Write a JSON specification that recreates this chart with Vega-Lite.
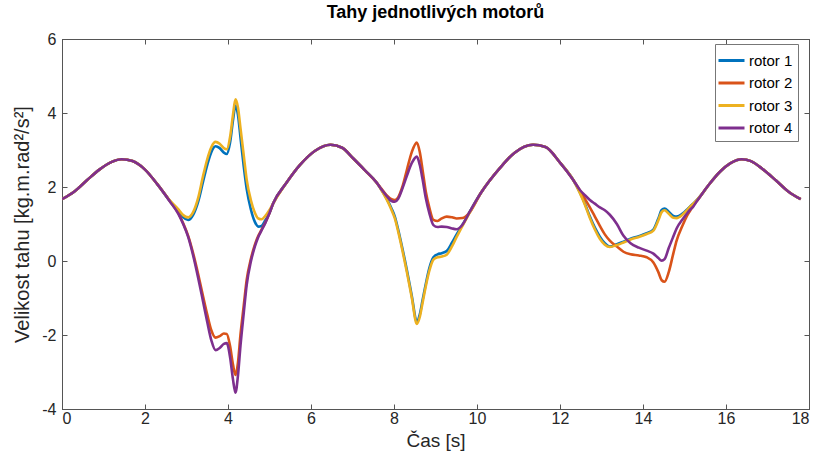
{
  "$schema": "https://vega.github.io/schema/vega-lite/v6.json",
  "autosize": {"type": "none"},
  "width": 747,
  "height": 370,
  "padding": {"left": 62, "top": 39, "right": 13, "bottom": 57},
  "background": "white",
  "config": {
    "view": {"stroke": "#555", "strokeWidth": 1},
    "font": "Liberation Sans",
    "axis": {"grid": false, "domainColor": "#555", "tickColor": "#555", "labelColor": "#262626", "titleColor": "#262626", "labelFontSize": 16, "titleFontSize": 19, "titleFontWeight": "normal", "labelFont": "Liberation Sans", "titleFont": "Liberation Sans"}
  },
  "title": {"text": "Tahy jednotlivých motorů", "fontSize": 18, "fontWeight": "bold", "color": "#000", "font": "Liberation Sans", "anchor": "middle", "offset": 9},
  "data": {"values": [
    {"t": 0, "rotor 1": 1.67, "rotor 2": 1.67, "rotor 3": 1.67, "rotor 4": 1.67},
    {"t": 0.3, "rotor 1": 1.88, "rotor 2": 1.88, "rotor 3": 1.88, "rotor 4": 1.88},
    {"t": 0.6, "rotor 1": 2.18, "rotor 2": 2.18, "rotor 3": 2.18, "rotor 4": 2.18},
    {"t": 0.9, "rotor 1": 2.47, "rotor 2": 2.47, "rotor 3": 2.47, "rotor 4": 2.47},
    {"t": 1.2, "rotor 1": 2.68, "rotor 2": 2.68, "rotor 3": 2.68, "rotor 4": 2.68},
    {"t": 1.44, "rotor 1": 2.75, "rotor 2": 2.75, "rotor 3": 2.75, "rotor 4": 2.75},
    {"t": 1.7, "rotor 1": 2.70, "rotor 2": 2.70, "rotor 3": 2.70, "rotor 4": 2.70},
    {"t": 2.0, "rotor 1": 2.47, "rotor 2": 2.47, "rotor 3": 2.47, "rotor 4": 2.47},
    {"t": 2.3, "rotor 1": 2.07, "rotor 2": 2.07, "rotor 3": 2.07, "rotor 4": 2.07},
    {"t": 2.6, "rotor 1": 1.62, "rotor 2": 1.62, "rotor 3": 1.63, "rotor 4": 1.61},
    {"t": 2.8, "rotor 1": 1.35, "rotor 2": 1.3, "rotor 3": 1.40, "rotor 4": 1.28},
    {"t": 2.92, "rotor 1": 1.18, "rotor 2": 1.02, "rotor 3": 1.24, "rotor 4": 1.0},
    {"t": 3.04, "rotor 1": 1.11, "rotor 2": 0.68, "rotor 3": 1.18, "rotor 4": 0.65},
    {"t": 3.16, "rotor 1": 1.25, "rotor 2": 0.21, "rotor 3": 1.32, "rotor 4": 0.15},
    {"t": 3.28, "rotor 1": 1.6, "rotor 2": -0.35, "rotor 3": 1.7, "rotor 4": -0.45},
    {"t": 3.4, "rotor 1": 2.15, "rotor 2": -0.96, "rotor 3": 2.3, "rotor 4": -1.1},
    {"t": 3.5, "rotor 1": 2.6, "rotor 2": -1.45, "rotor 3": 2.75, "rotor 4": -1.65},
    {"t": 3.6, "rotor 1": 2.95, "rotor 2": -1.88, "rotor 3": 3.08, "rotor 4": -2.15},
    {"t": 3.7, "rotor 1": 3.10, "rotor 2": -2.07, "rotor 3": 3.22, "rotor 4": -2.41},
    {"t": 3.8, "rotor 1": 3.05, "rotor 2": -2.03, "rotor 3": 3.17, "rotor 4": -2.35},
    {"t": 3.9, "rotor 1": 2.93, "rotor 2": -1.96, "rotor 3": 3.05, "rotor 4": -2.24},
    {"t": 3.97, "rotor 1": 2.89, "rotor 2": -1.97, "rotor 3": 3.02, "rotor 4": -2.22},
    {"t": 4.05, "rotor 1": 3.2, "rotor 2": -2.3, "rotor 3": 3.35, "rotor 4": -2.6},
    {"t": 4.12, "rotor 1": 3.8, "rotor 2": -2.8, "rotor 3": 3.95, "rotor 4": -3.2},
    {"t": 4.18, "rotor 1": 4.20, "rotor 2": -3.08, "rotor 3": 4.37, "rotor 4": -3.56},
    {"t": 4.24, "rotor 1": 3.95, "rotor 2": -2.75, "rotor 3": 4.15, "rotor 4": -3.1},
    {"t": 4.3, "rotor 1": 3.35, "rotor 2": -2.0, "rotor 3": 3.6, "rotor 4": -2.3},
    {"t": 4.38, "rotor 1": 2.55, "rotor 2": -1.2, "rotor 3": 2.85, "rotor 4": -1.4},
    {"t": 4.45, "rotor 1": 1.95, "rotor 2": -0.51, "rotor 3": 2.2, "rotor 4": -0.65},
    {"t": 4.55, "rotor 1": 1.4, "rotor 2": 0.05, "rotor 3": 1.65, "rotor 4": -0.02},
    {"t": 4.65, "rotor 1": 1.05, "rotor 2": 0.45, "rotor 3": 1.3, "rotor 4": 0.4},
    {"t": 4.73, "rotor 1": 0.93, "rotor 2": 0.68, "rotor 3": 1.15, "rotor 4": 0.65},
    {"t": 4.81, "rotor 1": 0.95, "rotor 2": 0.85, "rotor 3": 1.13, "rotor 4": 0.83},
    {"t": 4.9, "rotor 1": 1.1, "rotor 2": 1.04, "rotor 3": 1.22, "rotor 4": 1.03},
    {"t": 5.0, "rotor 1": 1.3, "rotor 2": 1.3, "rotor 3": 1.38, "rotor 4": 1.3},
    {"t": 5.09, "rotor 1": 1.56, "rotor 2": 1.56, "rotor 3": 1.56, "rotor 4": 1.56},
    {"t": 5.4, "rotor 1": 2.1, "rotor 2": 2.1, "rotor 3": 2.1, "rotor 4": 2.1},
    {"t": 5.73, "rotor 1": 2.59, "rotor 2": 2.59, "rotor 3": 2.59, "rotor 4": 2.59},
    {"t": 6.1, "rotor 1": 2.98, "rotor 2": 2.98, "rotor 3": 2.98, "rotor 4": 2.98},
    {"t": 6.47, "rotor 1": 3.14, "rotor 2": 3.14, "rotor 3": 3.14, "rotor 4": 3.14},
    {"t": 6.75, "rotor 1": 3.06, "rotor 2": 3.06, "rotor 3": 3.06, "rotor 4": 3.06},
    {"t": 7.02, "rotor 1": 2.77, "rotor 2": 2.77, "rotor 3": 2.77, "rotor 4": 2.77},
    {"t": 7.3, "rotor 1": 2.45, "rotor 2": 2.45, "rotor 3": 2.45, "rotor 4": 2.45},
    {"t": 7.58, "rotor 1": 2.12, "rotor 2": 2.12, "rotor 3": 2.12, "rotor 4": 2.12},
    {"t": 7.7, "rotor 1": 1.92, "rotor 2": 1.95, "rotor 3": 1.91, "rotor 4": 1.93},
    {"t": 7.82, "rotor 1": 1.69, "rotor 2": 1.78, "rotor 3": 1.67, "rotor 4": 1.76},
    {"t": 7.94, "rotor 1": 1.42, "rotor 2": 1.67, "rotor 3": 1.38, "rotor 4": 1.62},
    {"t": 8.02, "rotor 1": 1.2, "rotor 2": 1.65, "rotor 3": 1.15, "rotor 4": 1.6},
    {"t": 8.1, "rotor 1": 0.85, "rotor 2": 1.72, "rotor 3": 0.8, "rotor 4": 1.68},
    {"t": 8.2, "rotor 1": 0.35, "rotor 2": 2.0, "rotor 3": 0.3, "rotor 4": 1.95},
    {"t": 8.31, "rotor 1": -0.24, "rotor 2": 2.46, "rotor 3": -0.3, "rotor 4": 2.3},
    {"t": 8.43, "rotor 1": -0.95, "rotor 2": 2.95, "rotor 3": -1.0, "rotor 4": 2.65},
    {"t": 8.55, "rotor 1": -1.64, "rotor 2": 3.2, "rotor 3": -1.70, "rotor 4": 2.82},
    {"t": 8.62, "rotor 1": -1.45, "rotor 2": 2.95, "rotor 3": -1.52, "rotor 4": 2.6},
    {"t": 8.69, "rotor 1": -1.05, "rotor 2": 2.45, "rotor 3": -1.12, "rotor 4": 2.2},
    {"t": 8.77, "rotor 1": -0.6, "rotor 2": 1.85, "rotor 3": -0.66, "rotor 4": 1.68},
    {"t": 8.85, "rotor 1": -0.2, "rotor 2": 1.45, "rotor 3": -0.27, "rotor 4": 1.3},
    {"t": 8.95, "rotor 1": 0.1, "rotor 2": 1.11, "rotor 3": 0.04, "rotor 4": 0.97},
    {"t": 9.05, "rotor 1": 0.18, "rotor 2": 1.08, "rotor 3": 0.1, "rotor 4": 0.92},
    {"t": 9.15, "rotor 1": 0.21, "rotor 2": 1.15, "rotor 3": 0.12, "rotor 4": 0.93},
    {"t": 9.27, "rotor 1": 0.27, "rotor 2": 1.2, "rotor 3": 0.17, "rotor 4": 0.92},
    {"t": 9.4, "rotor 1": 0.5, "rotor 2": 1.18, "rotor 3": 0.4, "rotor 4": 0.88},
    {"t": 9.51, "rotor 1": 0.72, "rotor 2": 1.15, "rotor 3": 0.65, "rotor 4": 0.86},
    {"t": 9.65, "rotor 1": 0.98, "rotor 2": 1.16, "rotor 3": 0.95, "rotor 4": 0.98},
    {"t": 9.8, "rotor 1": 1.28, "rotor 2": 1.28, "rotor 3": 1.26, "rotor 4": 1.28},
    {"t": 10.1, "rotor 1": 1.85, "rotor 2": 1.85, "rotor 3": 1.85, "rotor 4": 1.85},
    {"t": 10.55, "rotor 1": 2.51, "rotor 2": 2.51, "rotor 3": 2.51, "rotor 4": 2.51},
    {"t": 10.9, "rotor 1": 2.92, "rotor 2": 2.92, "rotor 3": 2.92, "rotor 4": 2.92},
    {"t": 11.35, "rotor 1": 3.14, "rotor 2": 3.14, "rotor 3": 3.14, "rotor 4": 3.14},
    {"t": 11.65, "rotor 1": 3.08, "rotor 2": 3.08, "rotor 3": 3.08, "rotor 4": 3.08},
    {"t": 12.0, "rotor 1": 2.66, "rotor 2": 2.66, "rotor 3": 2.66, "rotor 4": 2.66},
    {"t": 12.32, "rotor 1": 2.19, "rotor 2": 2.19, "rotor 3": 2.19, "rotor 4": 2.19},
    {"t": 12.48, "rotor 1": 1.85, "rotor 2": 1.9, "rotor 3": 1.83, "rotor 4": 1.92},
    {"t": 12.6, "rotor 1": 1.55, "rotor 2": 1.68, "rotor 3": 1.52, "rotor 4": 1.78},
    {"t": 12.72, "rotor 1": 1.2, "rotor 2": 1.45, "rotor 3": 1.16, "rotor 4": 1.65},
    {"t": 12.84, "rotor 1": 0.9, "rotor 2": 1.2, "rotor 3": 0.85, "rotor 4": 1.55},
    {"t": 12.96, "rotor 1": 0.66, "rotor 2": 0.95, "rotor 3": 0.6, "rotor 4": 1.45},
    {"t": 13.08, "rotor 1": 0.48, "rotor 2": 0.72, "rotor 3": 0.44, "rotor 4": 1.37},
    {"t": 13.2, "rotor 1": 0.39, "rotor 2": 0.55, "rotor 3": 0.38, "rotor 4": 1.25},
    {"t": 13.37, "rotor 1": 0.45, "rotor 2": 0.39, "rotor 3": 0.43, "rotor 4": 1.0},
    {"t": 13.53, "rotor 1": 0.52, "rotor 2": 0.25, "rotor 3": 0.5, "rotor 4": 0.68},
    {"t": 13.7, "rotor 1": 0.6, "rotor 2": 0.18, "rotor 3": 0.58, "rotor 4": 0.48},
    {"t": 13.9, "rotor 1": 0.67, "rotor 2": 0.15, "rotor 3": 0.65, "rotor 4": 0.36},
    {"t": 14.09, "rotor 1": 0.75, "rotor 2": 0.1, "rotor 3": 0.73, "rotor 4": 0.28},
    {"t": 14.25, "rotor 1": 0.85, "rotor 2": -0.04, "rotor 3": 0.82, "rotor 4": 0.2},
    {"t": 14.37, "rotor 1": 1.15, "rotor 2": -0.3, "rotor 3": 1.1, "rotor 4": 0.08},
    {"t": 14.45, "rotor 1": 1.38, "rotor 2": -0.52, "rotor 3": 1.32, "rotor 4": 0.01},
    {"t": 14.52, "rotor 1": 1.42, "rotor 2": -0.56, "rotor 3": 1.37, "rotor 4": 0.05},
    {"t": 14.62, "rotor 1": 1.33, "rotor 2": -0.3, "rotor 3": 1.28, "rotor 4": 0.35},
    {"t": 14.73, "rotor 1": 1.22, "rotor 2": 0.2, "rotor 3": 1.17, "rotor 4": 0.66},
    {"t": 14.81, "rotor 1": 1.2, "rotor 2": 0.55, "rotor 3": 1.16, "rotor 4": 0.88},
    {"t": 14.95, "rotor 1": 1.28, "rotor 2": 0.95, "rotor 3": 1.25, "rotor 4": 1.12},
    {"t": 15.05, "rotor 1": 1.38, "rotor 2": 1.2, "rotor 3": 1.36, "rotor 4": 1.27},
    {"t": 15.13, "rotor 1": 1.47, "rotor 2": 1.35, "rotor 3": 1.46, "rotor 4": 1.38},
    {"t": 15.21, "rotor 1": 1.55, "rotor 2": 1.5, "rotor 3": 1.55, "rotor 4": 1.47},
    {"t": 15.3, "rotor 1": 1.65, "rotor 2": 1.62, "rotor 3": 1.65, "rotor 4": 1.62},
    {"t": 15.4, "rotor 1": 1.78, "rotor 2": 1.78, "rotor 3": 1.78, "rotor 4": 1.78},
    {"t": 15.6, "rotor 1": 2.08, "rotor 2": 2.08, "rotor 3": 2.08, "rotor 4": 2.08},
    {"t": 15.86, "rotor 1": 2.42, "rotor 2": 2.42, "rotor 3": 2.42, "rotor 4": 2.42},
    {"t": 16.1, "rotor 1": 2.64, "rotor 2": 2.64, "rotor 3": 2.64, "rotor 4": 2.64},
    {"t": 16.38, "rotor 1": 2.75, "rotor 2": 2.75, "rotor 3": 2.75, "rotor 4": 2.75},
    {"t": 16.6, "rotor 1": 2.70, "rotor 2": 2.70, "rotor 3": 2.70, "rotor 4": 2.70},
    {"t": 16.9, "rotor 1": 2.47, "rotor 2": 2.47, "rotor 3": 2.47, "rotor 4": 2.47},
    {"t": 17.2, "rotor 1": 2.18, "rotor 2": 2.18, "rotor 3": 2.18, "rotor 4": 2.18},
    {"t": 17.5, "rotor 1": 1.88, "rotor 2": 1.88, "rotor 3": 1.88, "rotor 4": 1.88},
    {"t": 17.8, "rotor 1": 1.67, "rotor 2": 1.67, "rotor 3": 1.67, "rotor 4": 1.67}
  ]},
  "transform": [{"fold": ["rotor 1", "rotor 2", "rotor 3", "rotor 4"], "as": ["rotor", "v"]}],
  "layer": [
    {
      "mark": {"type": "line", "interpolate": "monotone", "strokeWidth": 2.6, "clip": true},
      "encoding": {
        "x": {"field": "t", "type": "quantitative", "scale": {"domain": [0, 18], "nice": false},
              "axis": {"values": [0,2,4,6,8,10,12,14,16,18], "title": "Čas [s]", "tickSize": -5, "labelPadding": 6, "titlePadding": 5, "labelExpr": "'' + datum.value"}},
        "y": {"field": "v", "type": "quantitative", "scale": {"domain": [-4, 6], "nice": false, "zero": false},
              "axis": {"values": [-4,-2,0,2,4,6], "title": "Velikost tahu [kg.m.rad²/s²]", "titleFontSize": 20, "tickSize": -5, "labelPadding": 11, "titlePadding": 9, "labelExpr": "'' + datum.value"}},
        "color": {"field": "rotor", "type": "nominal",
                  "scale": {"domain": ["rotor 1", "rotor 2", "rotor 3", "rotor 4"], "range": ["#0072BD", "#D95319", "#EDB120", "#7E2F8E"]},
                  "legend": {"title": null, "orient": "none", "legendX": 653, "legendY": 5, "symbolType": "M-1.3,0H1.3", "symbolSize": 400, "symbolStrokeWidth": 3, "labelFontSize": 15, "labelFont": "Liberation Sans", "labelColor": "#000", "strokeColor": "#777", "fillColor": "white", "padding": 5, "rowPadding": 2.5, "labelOffset": 6}},
        "order": {"field": "rotor"}
      }
    },
    {
      "mark": {"type": "line", "strokeOpacity": 0},
      "encoding": {
        "x": {"field": "t", "type": "quantitative", "axis": {"orient": "top", "values": [0,2,4,6,8,10,12,14,16,18], "labels": false, "title": null, "tickSize": -5}},
        "y": {"field": "v", "type": "quantitative", "axis": {"orient": "right", "values": [-4,-2,0,2,4,6], "labels": false, "title": null, "tickSize": -5}},
        "detail": {"field": "rotor"}
      }
    }
  ],
  "resolve": {"axis": {"x": "independent", "y": "independent"}}
}
